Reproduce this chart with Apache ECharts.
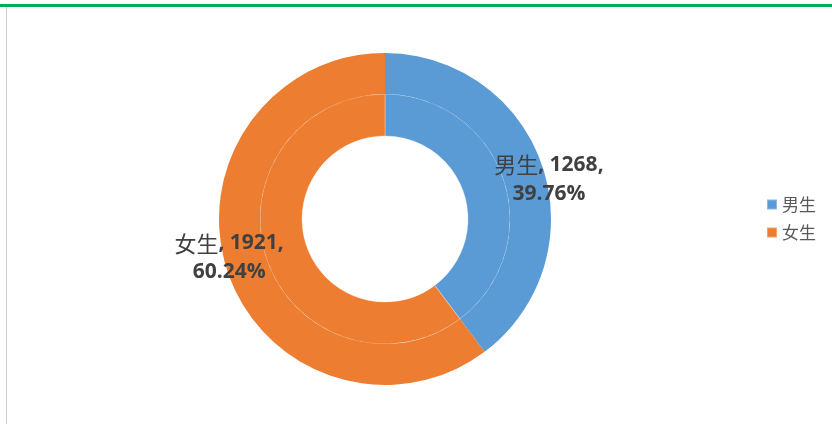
<!DOCTYPE html>
<html>
<head>
<meta charset="utf-8">
<script src="https://cdn.jsdelivr.net/npm/echarts@6/dist/echarts.min.js"></script>
<style>
  html, body { margin: 0; padding: 0; background: #fff; }
  #wrap { position: relative; width: 832px; height: 424px; overflow: hidden; }
  #topline { position: absolute; left: 0; top: 4px; width: 832px; height: 3px; background: #00b050; }
  #leftline { position: absolute; left: 6px; top: 7px; width: 1px; height: 417px; background: #d0d0d0; }
  #chart { position: absolute; left: 0; top: 0; width: 832px; height: 424px; }
</style>
</head>
<body>
<div id="wrap">
  <div id="chart"></div>
  <div id="topline"></div>
  <div id="leftline"></div>
</div>
<script>
// 男女生人数
const names = ['男生', '女生']
const counts = [1268, 1921]
const colors = ['#5b9bd5', '#ed7d31']

const pieData = names.map((n, i) => ({ name: n, value: counts[i] }))

// excel style best-fit label nudges
const labelShift = [[23, 7], [-15, -8]]

const chart = echarts.init(document.getElementById('chart'))
chart.setOption({
  color: colors,
  animation: false,
  legend: {
    orient: 'vertical',
    left: 761,
    top: 191,
    icon: 'rect',
    itemWidth: 10,
    itemHeight: 10,
    itemGap: 11,
    textStyle: {
      color: '#595959',
      fontSize: 17,
      fontFamily: 'Noto Sans CJK SC'
    },
    data: names
  },
  series: [
    {
      type: 'pie',
      center: [385, 219],
      radius: [83, 125],
      startAngle: 90,
      clockwise: true,
      silent: true,
      itemStyle: {
        borderColor: 'rgba(255,255,255,0.3)',
        borderWidth: 1
      },
      label: { show: false },
      labelLine: { show: false },
      data: pieData
    },
    {
      type: 'pie',
      center: [385, 219],
      radius: [125, 166],
      startAngle: 90,
      clockwise: true,
      silent: true,
      label: {
        show: true,
        position: 'inside',
        formatter: '{n|{b}}{v|, {c},}\n{v|{d}%}',
        lineHeight: 29,
        rich: {
          n: {
            fontSize: 22,
            color: '#404040',
            fontFamily: 'Noto Sans CJK SC',
            lineHeight: 29
          },
          v: {
            fontSize: 21,
            fontWeight: 'bold',
            color: '#404040',
            fontFamily: 'Open Sans',
            lineHeight: 29
          }
        }
      },
      labelLayout: function (params) {
        const s = labelShift[params.dataIndex]
        return { dx: s[0], dy: s[1] }
      },
      labelLine: { show: false },
      data: pieData
    }
  ]
})
</script>
</body>
</html>
